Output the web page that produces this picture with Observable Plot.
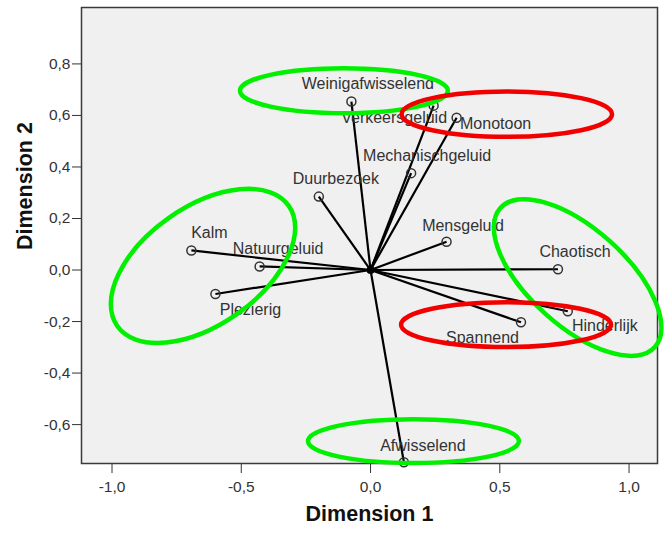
<!DOCTYPE html>
<html>
<head>
<meta charset="utf-8">
<script src="https://cdn.jsdelivr.net/npm/d3@7"></script>
<script src="https://cdn.jsdelivr.net/npm/@observablehq/plot@0.6"></script>
<style>
  html, body { margin: 0; padding: 0; background: #fff; }
</style>
</head>
<body>
<div id="chart"></div>
<script>
// ---- Data ----
const names = ["Weinigafwisselend", "Verkeersgeluid", "Monotoon", "Mechanischgeluid", "Duurbezoek",
  "Mensgeluid", "Chaotisch", "Hinderlijk", "Spannend", "Afwisselend", "Kalm", "Natuurgeluid", "Plezierig"];
const dim1 = [-0.074, 0.244, 0.333, 0.157, -0.200, 0.294, 0.725, 0.763, 0.582, 0.129, -0.693, -0.429, -0.600];
const dim2 = [0.654, 0.638, 0.591, 0.376, 0.285, 0.110, 0.003, -0.160, -0.203, -0.746, 0.076, 0.014, -0.093];

const xTicks = [-1, -0.5, 0, 0.5, 1];
const yTicks = [-0.6, -0.4, -0.2, 0, 0.2, 0.4, 0.6, 0.8];
const xDomain = [-1.118, 1.110];
const yDomain = [-0.751, 1.019];

// Annotation ellipses (data units): centre, semi-axes, rotation (deg), group
const ellCx    = [-0.101, 0.529, -0.646, 0.803, 0.526, 0.168];
const ellCy    = [0.694, 0.603, 0.014, -0.031, -0.214, -0.666];
const ellRx    = [0.402, 0.407, 0.405, 0.402, 0.406, 0.408];
const ellRy    = [0.087, 0.088, 0.228, 0.188, 0.087, 0.085];
const ellAngle = [0, 0, 35, -42, 0, 0];
const ellGroup = ["green", "red", "green", "green", "red", "green"];

// ---- Layout / style config ----
const groupColor = {green: "#00f000", red: "#f20000"};
const labelOffset = {
  Weinigafwisselend: [16.5, -18], Verkeersgeluid: [-39.5, 12], Monotoon: [39, 6],
  Mechanischgeluid: [16, -17], Duurbezoek: [17, -18], Mensgeluid: [16.5, -16],
  Chaotisch: [17, -17], Hinderlijk: [37, 15], Spannend: [-38.5, 15.5],
  Afwisselend: [19, -16], Kalm: [18, -18], Natuurgeluid: [18.5, -18], Plezierig: [35, 16]
};

const pts = names.map((n, i) => ({name: n, x: dim1[i], y: dim2[i]}));
const ells = ellCx.map((c, i) => ({cx: c, cy: ellCy[i], rx: ellRx[i], ry: ellRy[i], angle: ellAngle[i], group: ellGroup[i]}));
const fmt = d => d.toFixed(1).replace(".", ",");

function ellipseMark(index, scales) {
  const {x, y} = scales;
  const g = d3.create("svg:g");
  for (const e of ells) {
    const cx = x(e.cx), cy = y(e.cy);
    const rx = Math.abs(x(e.cx + e.rx) - cx);
    const ry = e.angle === 0 ? Math.abs(y(e.cy + e.ry) - cy) : Math.abs(x(e.cx + e.ry) - cx);
    g.append("ellipse")
      .attr("cx", cx).attr("cy", cy).attr("rx", rx).attr("ry", ry)
      .attr("transform", `rotate(${-e.angle} ${cx} ${cy})`)
      .attr("fill", "none")
      .attr("stroke", groupColor[e.group])
      .attr("stroke-width", 4.5);
  }
  return g.node();
}

const labelMarks = pts.map(d => Plot.text([d], {
  x: "x", y: "y", text: "name",
  dx: labelOffset[d.name][0], dy: labelOffset[d.name][1],
  textAnchor: "middle", lineAnchor: "middle",
  fill: "#333", fontSize: 16
}));

const chart = Plot.plot({
  width: 666,
  height: 535,
  marginLeft: 81,
  marginRight: 9,
  marginTop: 7,
  marginBottom: 72,
  style: {fontFamily: "'Liberation Sans', Arial, sans-serif", fontSize: "15.5px", background: "#fff", color: "#333", overflow: "visible"},
  x: {domain: xDomain, ticks: xTicks, tickFormat: fmt, tickSize: 10, tickPadding: 7, label: null},
  y: {domain: yDomain, ticks: yTicks, tickFormat: fmt, tickSize: 9, tickPadding: 2, label: null},
  marks: [
    Plot.frame({fill: "#f0f0f0"}),
    Plot.link(pts, {x1: () => 0, y1: () => 0, x2: "x", y2: "y", stroke: "#000", strokeWidth: 2.2}),
    Plot.dot(pts, {x: "x", y: "y", r: 4.5, stroke: "#333", strokeWidth: 1.5, fill: "none"}),
    Plot.dot([{x: 0, y: 0}], {x: "x", y: "y", r: 4, fill: "#000"}),
    ...labelMarks,
    Plot.frame({stroke: "#3a3a3a", strokeWidth: 1.5}),
    ellipseMark,
    Plot.text(["Dimension 1"], {frameAnchor: "bottom", text: d => d, dy: 57, fontSize: 21.5, fontWeight: "bold", fill: "#111"}),
    Plot.text(["Dimension 2"], {frameAnchor: "left", text: d => d, rotate: -90, dx: -56, dy: 14.5, fontSize: 21.5, fontWeight: "bold", fill: "#111"})
  ]
});
document.getElementById("chart").appendChild(chart);
</script>
</body>
</html>
